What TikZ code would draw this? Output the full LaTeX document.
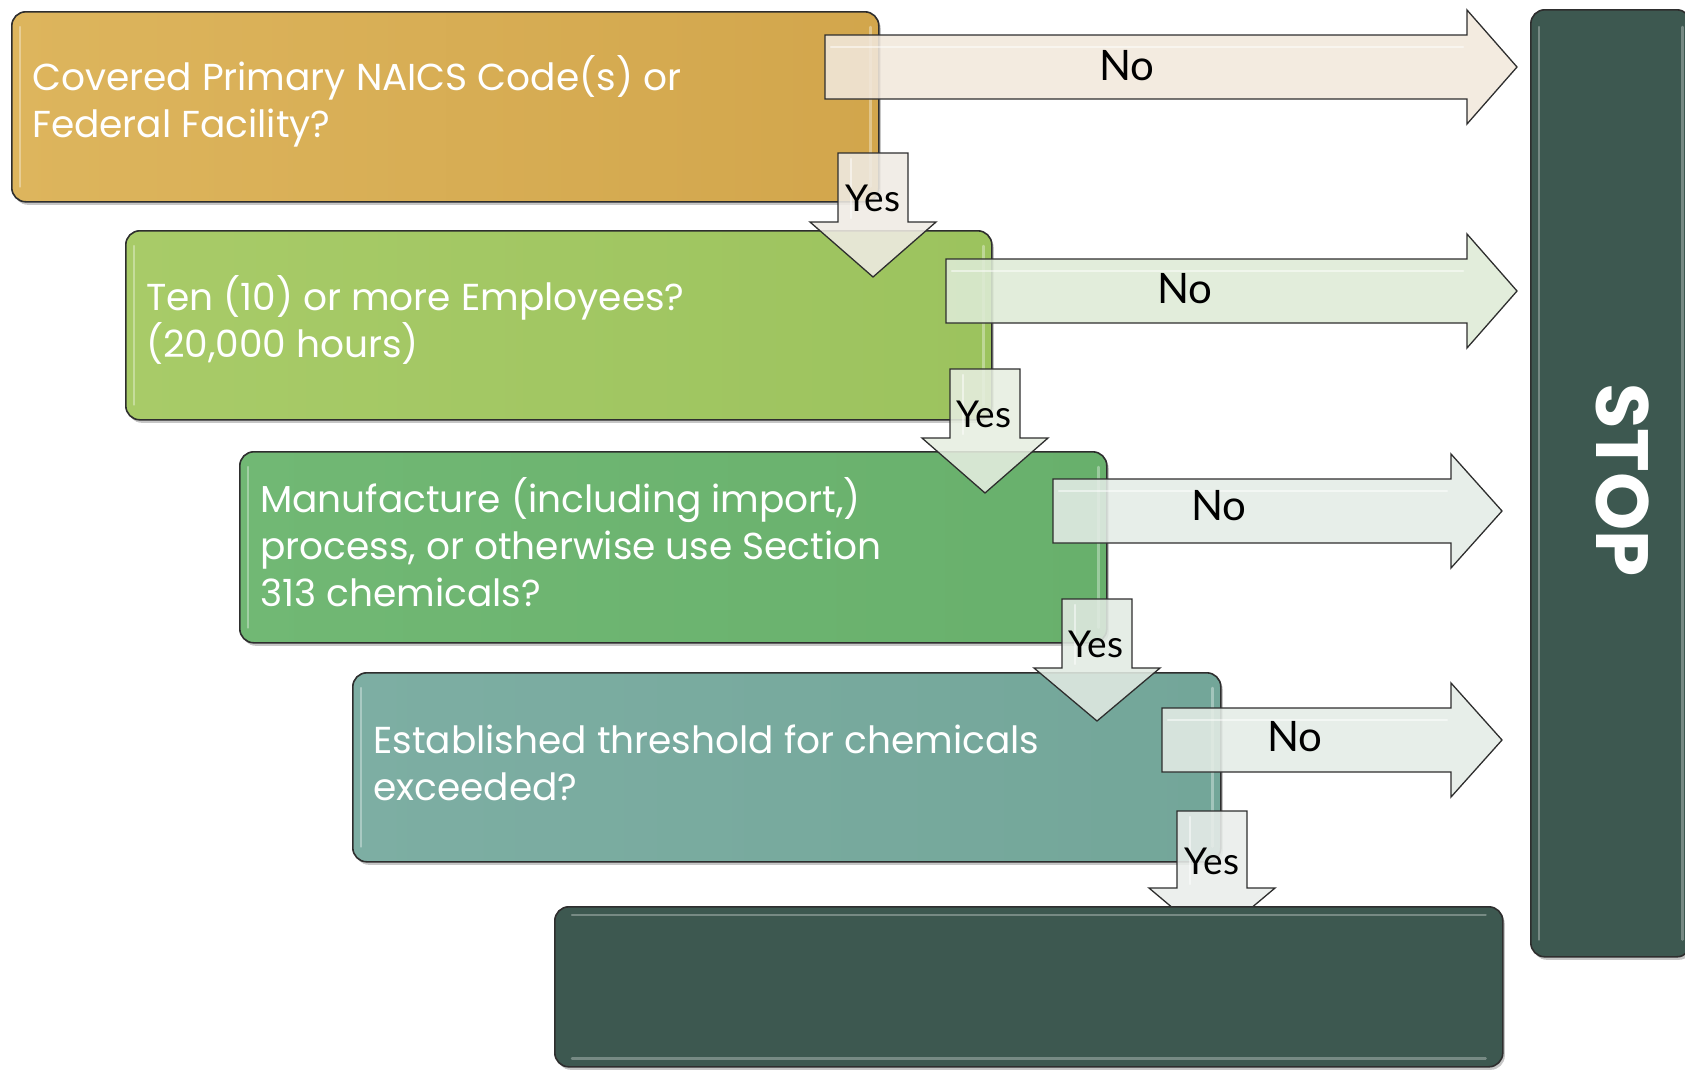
\documentclass[tikz,border=0pt]{standalone}
\usepackage{fontspec}
\setmainfont{Poppins}
\newfontfamily\lblfont{Lato}
\usetikzlibrary{shadows}
\definecolor{goldL}{HTML}{DDB55D}
\definecolor{goldR}{HTML}{D2A64C}
\definecolor{limeL}{HTML}{A8CB68}
\definecolor{limeR}{HTML}{9CC35E}
\definecolor{grnL}{HTML}{71B874}
\definecolor{grnR}{HTML}{68B06C}
\definecolor{tealL}{HTML}{7DAEA3}
\definecolor{tealR}{HTML}{73A699}
\definecolor{darkbox}{HTML}{3D5850}
\definecolor{edge}{HTML}{2E2E2E}
\definecolor{noA}{HTML}{F1E8DC}
\definecolor{noB}{HTML}{DEEBD6}
\definecolor{noC}{HTML}{E4ECE6}
\definecolor{yesA}{HTML}{EFEBE4}
\definecolor{yesB}{HTML}{E6EEE0}
\definecolor{yesC}{HTML}{E1EAE2}
\definecolor{yesD}{HTML}{E9EDEA}
\tikzset{
  box/.style={draw=edge, line width=1.6pt, rounded corners=14pt, anchor=north west,
    inner sep=0pt,
    drop shadow={shadow xshift=2pt, shadow yshift=-3pt, opacity=0.45}},
  boxtext/.style={anchor=west, inner sep=0pt, align=left, text=white,
    font=\fontsize{37.5}{47}\selectfont},
  darkbox/.style={box, fill=darkbox},
  gloss/.style={white, opacity=0.35, line width=2.5pt, line cap=round},
  arrowline/.style={draw=edge, line width=1.3pt, fill opacity=0.88, line join=miter},
  nolbl/.style={font=\lblfont\fontsize{42}{42}\selectfont, text=black, inner sep=0pt},
  yeslbl/.style={font=\lblfont\fontsize{37}{37}\selectfont, text=black, inner sep=0pt},
}
\newcommand{\harr}[5]{%
  \draw[arrowline, fill=#5] (#1,#4-32) -- (#2,#4-32) -- (#2,#4-57) -- (#3,#4)
    -- (#2,#4+57) -- (#2,#4+32) -- (#1,#4+32) -- cycle;
  \draw[gloss, opacity=0.5] (#1+6,#4-20) -- (#2-4,#4-20);}
\newcommand{\varr}[5]{%
  \draw[arrowline, fill=#5] (#1-35,#2) -- (#1+35,#2) -- (#1+35,#3) -- (#1+63,#3)
    -- (#1,#4) -- (#1-63,#3) -- (#1-35,#3) -- cycle;
  \draw[gloss, opacity=0.5] (#1-22,#2+6) -- (#1-22,#3-4);}
\begin{document}
\begin{tikzpicture}[x=1pt,y=-1pt]
\useasboundingbox (0,0) rectangle (1685,1069);
\clip (0,0) rectangle (1685,1069);
% question boxes
\node[box, left color=goldL, right color=goldR, minimum width=867pt, minimum height=190pt]
  (b1) at (11,11) {};
\node[box, left color=limeL, right color=limeR, minimum width=866pt, minimum height=189pt]
  (b2) at (125,230) {};
\node[box, left color=grnL, right color=grnR, minimum width=867pt, minimum height=191pt]
  (b3) at (239,451) {};
\node[box, left color=tealL, right color=tealR, minimum width=868pt, minimum height=189pt]
  (b4) at (352,672) {};
\foreach \b in {b1,b2,b3,b4}{
  \draw[gloss] ([xshift=9pt,yshift=-16pt]\b.north west) -- ([xshift=9pt,yshift=16pt]\b.south west);
  \draw[gloss] ([xshift=-9pt,yshift=-16pt]\b.north east) -- ([xshift=-9pt,yshift=16pt]\b.south east);
}
\node[boxtext] (t1) at ([xshift=21pt,yshift=5pt]b1.west) {Covered Primary NAICS Code(s) or\\Federal Facility?};
\node[boxtext] (t2) at ([xshift=21pt,yshift=5pt]b2.west) {Ten (10) or more Employees?\\(20,000 hours)};
\node[boxtext] (t3) at ([xshift=21pt,yshift=5pt]b3.west) {Manufacture (including import,)\\process, or otherwise use Section\\313 chemicals?};
\node[boxtext] (t4) at ([xshift=21pt,yshift=4pt]b4.west) {Established threshold for chemicals\\exceeded?};
% STOP box
\node[darkbox, minimum width=160pt, minimum height=947pt] (stop) at (1530,9) {};
\draw[gloss, opacity=0.3] ([xshift=9pt,yshift=-18pt]stop.north west) -- ([xshift=9pt,yshift=18pt]stop.south west);
\draw[gloss, opacity=0.3] ([xshift=-9pt,yshift=-18pt]stop.north east) -- ([xshift=-9pt,yshift=18pt]stop.south east);
\node[rotate=-90, text=white, inner sep=0pt, font=\fontsize{74}{74}\selectfont\bfseries]
  (stoptxt) at (1623,480) {STOP};
% No arrows
\harr{825}{1467}{1517}{67}{noA}
\harr{946}{1467}{1517}{291}{noB}
\harr{1053}{1451}{1502}{511}{noC}
\harr{1162}{1451}{1502}{740}{noC}
% Yes arrows
\varr{873}{153}{222}{277}{yesA}
\varr{985}{369}{438}{493}{yesB}
\varr{1097}{599}{668}{721}{yesC}
\varr{1212}{811}{888}{941}{yesD}
% final box
\node[darkbox, minimum width=948pt, minimum height=160pt] (final) at (554,906) {};
\draw[gloss, opacity=0.3] ([xshift=18pt,yshift=-9pt]final.north west) -- ([xshift=-18pt,yshift=-9pt]final.north east);
\draw[gloss, opacity=0.3] ([xshift=18pt,yshift=9pt]final.south west) -- ([xshift=-18pt,yshift=9pt]final.south east);
% labels
\node[nolbl] (no1) at (1127,66) {No};
\node[nolbl] (no2) at (1185,289) {No};
\node[nolbl] (no3) at (1219,506) {No};
\node[nolbl] (no4) at (1295,737) {No};
\node[yeslbl] (yes1) at (873,198) {Yes};
\node[yeslbl] (yes2) at (984,414) {Yes};
\node[yeslbl] (yes3) at (1096,644) {Yes};
\node[yeslbl] (yes4) at (1212,861) {Yes};
\end{tikzpicture}
\end{document}
